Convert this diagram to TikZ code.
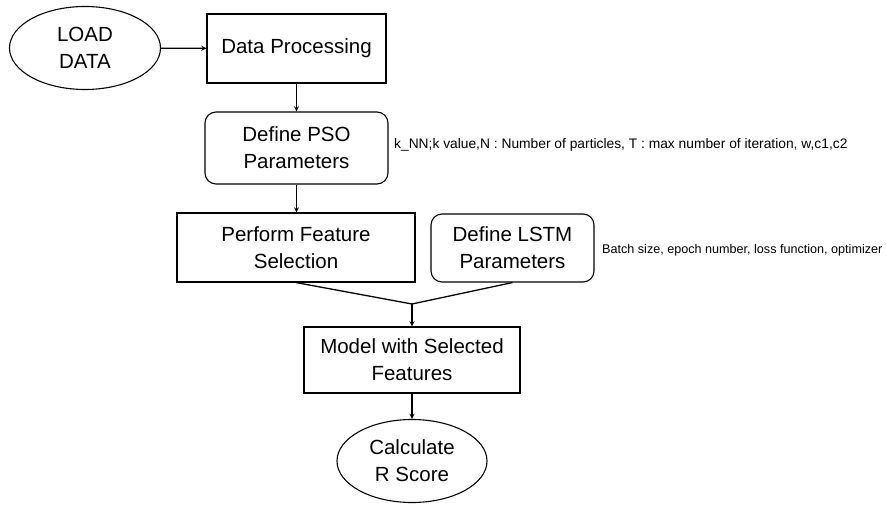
\documentclass[tikz,border=0pt]{standalone}
\usepackage{fontspec}
\setmainfont{Liberation Sans}
\usetikzlibrary{shapes.geometric}

\begin{document}
\begin{tikzpicture}[x=1pt, y=-1pt, >=stealth,
	box/.style={draw, line width=1.1pt, align=center, inner sep=0pt,
		font=\fontsize{20.5}{27}\selectfont},
	roundbox/.style={box, rounded corners=11pt},
	oval/.style={box, ellipse},
	note/.style={anchor=west, inner sep=0pt},
	flow/.style={line width=1.3pt}]

	\useasboundingbox (0,0) rectangle (886,505);

	% start and first steps
	\node[oval, minimum width=151, minimum height=83] (load) at (85,48) {LOAD\\DATA};
	\node[box, minimum width=179, minimum height=69] (proc) at (296.5,48.5) {Data Processing};
	\node[roundbox, minimum width=183, minimum height=72] (pso) at (296.5,148) {Define PSO\\Parameters};
	\node[note, font=\fontsize{13.8}{16}\selectfont] (psonote) at (394,145)
		{k\_NN;k value,N : Number of particles, T : max number of iteration, w,c1,c2};

	% feature selection and LSTM settings
	\node[box, minimum width=238, minimum height=69] (sel) at (296,247.5) {Perform Feature\\Selection};
	\node[roundbox, minimum width=163, minimum height=68] (lstm) at (512.5,248) {Define LSTM\\Parameters};
	\node[note, font=\fontsize{12.6}{15}\selectfont] (lstmnote) at (602,250)
		{Batch size, epoch number, loss function, optimizer};

	% model and result
	\coordinate (J) at (412,304);
	\node[box, minimum width=216, minimum height=66] (model) at (412,360) {Model with Selected\\Features};
	\node[oval, minimum width=150, minimum height=83] (score) at (412,461) {Calculate\\R Score};

	% connectors
	\draw[flow, ->] (load) -- (proc);
	\draw[flow, ->] (proc) -- (proc.south |- pso.north);
	\draw[flow, ->] (pso.south) -- (pso.south |- sel.north);
	\draw[flow] (sel.south) -- (J);
	\draw[flow] (lstm.south) -- (J);
	\draw[flow, ->] (J) -- (model.north);
	\draw[flow, ->] (model) -- (score);

\end{tikzpicture}
\end{document}
